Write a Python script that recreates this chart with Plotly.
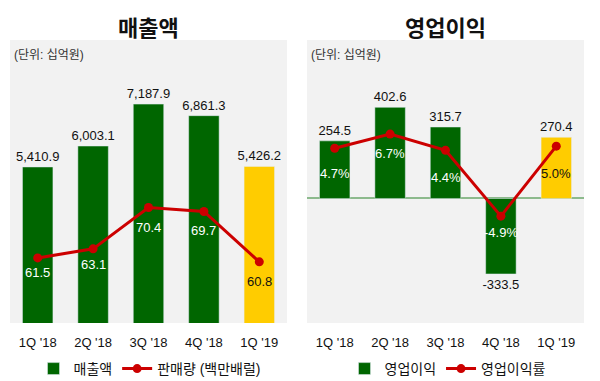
import plotly.graph_objects as go
from plotly.subplots import make_subplots

quarters = ["1Q '18", "2Q '18", "3Q '18", "4Q '18", "1Q '19"]
revenue = [5410.9, 6003.1, 7187.9, 6861.3, 5426.2]
sales_volume = [61.5, 63.1, 70.4, 69.7, 60.8]
op_profit = [254.5, 402.6, 315.7, -333.5, 270.4]
op_margin = [4.7, 6.7, 4.4, -4.9, 5.0]

GREEN = "#006600"
YELLOW = "#FFCC00"
RED = "#CC0000"
BG = "#F2F2F2"
FONT = "Arial, 'Liberation Sans', 'Noto Sans CJK KR', sans-serif"
bar_colors = [GREEN, GREEN, GREEN, GREEN, YELLOW]
lbl_colors = ["white", "white", "white", "white", "#111111"]
vol_label_shift = [-15, -16, -20, -19, -20]
margin_label_shift = [-25, -19, -27, -16, -27]

# page body has an 8px default margin; figure fills the rest of the 600x381 window
W, H, OFF = 592, 373, 8


def px(x):
    return (x - OFF) / W


def py(y):
    return 1 - (y - OFF) / H


fig = make_subplots(rows=1, cols=2, specs=[[{"secondary_y": True}, {"secondary_y": True}]])

fig.add_trace(go.Bar(x=quarters, y=revenue, marker_color=bar_colors, name="매출액",
                     texttemplate="%{y:,.1f}", textposition="outside", cliponaxis=False,
                     constraintext="none",
                     textfont=dict(size=13, color="#111111"), width=0.55,
                     legend="legend"), row=1, col=1, secondary_y=False)
fig.add_trace(go.Scatter(x=quarters, y=sales_volume, mode="lines+markers", name="판매량 (백만배럴)",
                         line=dict(color=RED, width=3), marker=dict(size=9, color=RED),
                         legend="legend"),
              row=1, col=1, secondary_y=True)

fig.add_trace(go.Bar(x=quarters, y=op_profit, marker_color=bar_colors, name="영업이익",
                     texttemplate="%{y:.1f}", textposition="outside", cliponaxis=False,
                     constraintext="none",
                     textfont=dict(size=13, color="#111111"), width=0.55,
                     legend="legend2"), row=1, col=2, secondary_y=False)
fig.add_trace(go.Scatter(x=quarters, y=op_margin, mode="lines+markers", name="영업이익률",
                         line=dict(color=RED, width=3), marker=dict(size=9, color=RED),
                         legend="legend2"),
              row=1, col=2, secondary_y=True)

for q, v, c, s in zip(quarters, sales_volume, lbl_colors, vol_label_shift):
    fig.add_annotation(x=q, y=v, xref="x", yref="y2", text=f"{v:.1f}", showarrow=False,
                       yshift=s, yanchor="middle", xanchor="center", font=dict(size=13, color=c))
for q, v, c, s in zip(quarters, op_margin, lbl_colors, margin_label_shift):
    fig.add_annotation(x=q, y=v, xref="x2", yref="y4", text=f"{v:.1f}%", showarrow=False,
                       yshift=s, yanchor="middle", xanchor="center", font=dict(size=13, color=c))

ytop = py(40)
ybot = py(323)
fig.update_layout(
    width=W, height=H, margin=dict(l=0, r=0, t=0, b=0, autoexpand=False),
    paper_bgcolor="white", plot_bgcolor=BG,
    font=dict(family=FONT, size=13, color="#111111"),
    xaxis=dict(domain=[px(10), px(287)], showgrid=False, ticks="", showline=False,
               tickfont=dict(size=13), ticklabelstandoff=10),
    xaxis2=dict(domain=[px(307), px(584)], showgrid=False, ticks="", showline=False,
                tickfont=dict(size=13), ticklabelstandoff=10),
    yaxis=dict(domain=[ybot, ytop], range=[1000, 9000], visible=False, showgrid=False),
    yaxis2=dict(range=[50, 100], visible=False, showgrid=False),
    yaxis3=dict(domain=[ybot, ytop], range=[-550, 700], showgrid=False, showticklabels=False,
                zeroline=True, zerolinecolor="#8DBA8D", zerolinewidth=1.5),
    yaxis4=dict(range=[-20, 20], visible=False, showgrid=False),
    legend=dict(orientation="h", x=px(150), xanchor="center", y=py(369), yanchor="middle",
                font=dict(size=14), bgcolor="rgba(0,0,0,0)", itemwidth=30),
    legend2=dict(orientation="h", x=px(448), xanchor="center", y=py(369), yanchor="middle",
                 font=dict(size=14), bgcolor="rgba(0,0,0,0)", itemwidth=30),
)

fig.add_annotation(text="<b>매출액</b>", x=px(148), y=py(8), xref="paper", yref="paper",
                   showarrow=False, font=dict(size=22, family="'Noto Sans CJK KR'", color="#111111"),
                   xanchor="center", yanchor="top")
fig.add_annotation(text="<b>영업이익</b>", x=px(445), y=py(8), xref="paper", yref="paper",
                   showarrow=False, font=dict(size=22, family="'Noto Sans CJK KR'", color="#111111"),
                   xanchor="center", yanchor="top")
for xp in (12, 309):
    fig.add_annotation(text="(단위: 십억원)", x=px(xp), y=py(55), xref="paper", yref="paper",
                       showarrow=False, xanchor="left", yanchor="middle",
                       font=dict(size=12, color="#333333"))

fig.write_html("out.html")
